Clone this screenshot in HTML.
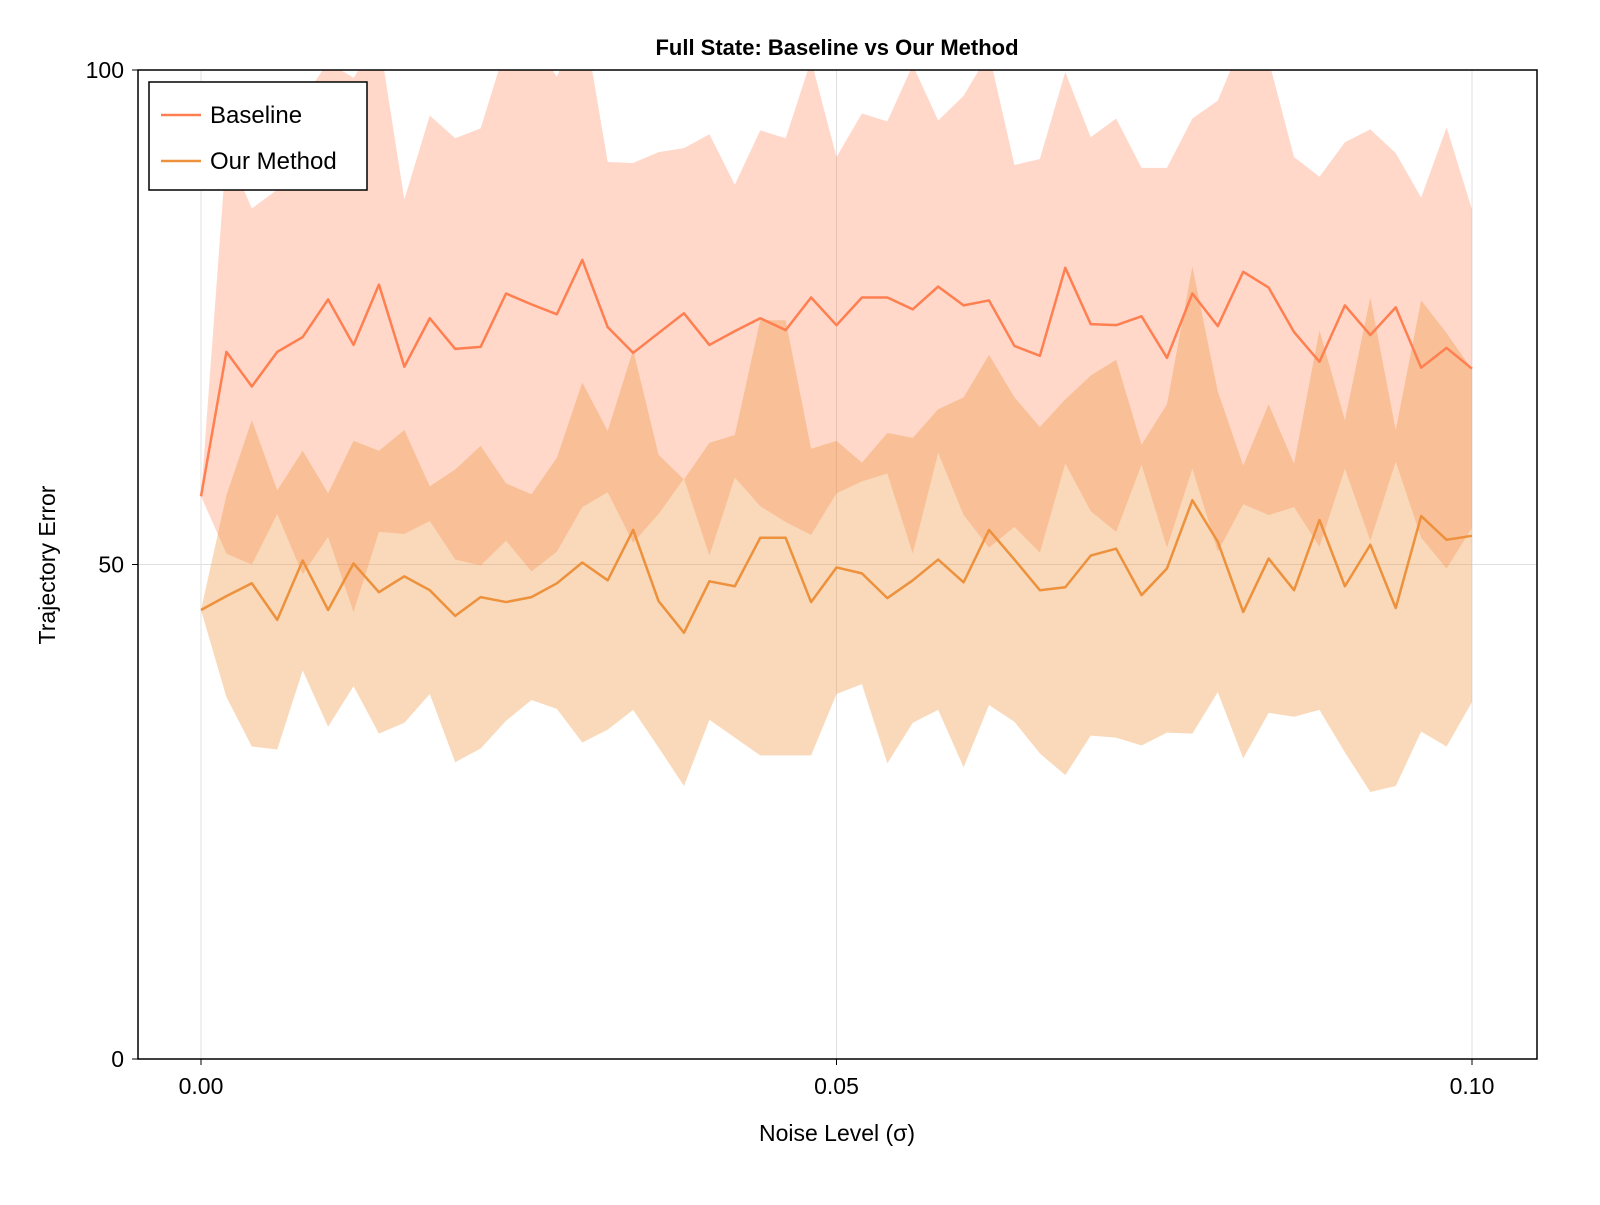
<!DOCTYPE html>
<html><head><meta charset="utf-8"><style>
body{margin:0;background:#fff;}
svg text{font-family:"Liberation Sans",sans-serif;}
</style></head><body>
<svg id="chart" width="1600" height="1200" viewBox="0 0 1600 1200" xmlns="http://www.w3.org/2000/svg">
<defs><clipPath id="clip"><rect x="138" y="70" width="1399" height="989"/></clipPath></defs>
<rect x="0" y="0" width="1600" height="1200" fill="#fff"/>
<g id="grid"></g>
<g id="bands" clip-path="url(#clip)"></g>
<g id="lines" clip-path="url(#clip)"></g>
<rect x="138" y="70" width="1399" height="989" fill="none" stroke="#000" stroke-width="1.5"/>
<g id="ticks"></g>
<text x="837" y="55" text-anchor="middle" font-size="22" font-weight="bold">Full State: Baseline vs Our Method</text>
<text x="837" y="1141" text-anchor="middle" font-size="23">Noise Level (σ)</text>
<text transform="translate(55,565) rotate(-90)" text-anchor="middle" font-size="23">Trajectory Error</text>
<g>
<rect x="149" y="82" width="218" height="108" fill="#fff" stroke="#000" stroke-width="1.5"/>
<line x1="161" y1="115" x2="201" y2="115" stroke="#ff7f50" stroke-width="2.5"/>
<text x="210" y="123" font-size="24">Baseline</text>
<line x1="161" y1="161" x2="201" y2="161" stroke="#ed913d" stroke-width="2.5"/>
<text x="210" y="169" font-size="24">Our Method</text>
</g>
</svg>
<script>
const xTicks = [0, 0.05, 0.1];
const xTickLabels = ["0.00", "0.05", "0.10"];
const yTicks = [0, 50, 100];
const yTickLabels = ["0", "50", "100"];
const baselineMean = [56.9,71.5,68.0,71.5,73.0,76.8,72.2,78.3,70.0,74.9,71.8,72.0,77.4,76.3,75.3,80.8,74.0,71.4,73.4,75.4,72.2,73.6,74.9,73.7,77.0,74.2,77.0,77.0,75.8,78.1,76.2,76.7,72.1,71.1,80.0,74.3,74.2,75.1,70.9,77.4,74.1,79.6,78.0,73.5,70.5,76.2,73.2,76.0,69.9,71.9,69.8];
const baselineStd = [0,20.4,18.0,16.4,24,24,27,25,16.9,20.5,21.3,22.1,25,27,24,25,16.7,19.2,18.3,16.7,21.3,14.8,19.0,19.4,24,17.0,18.6,17.8,24.7,16.8,21.2,25,18.3,19.9,19.8,18.9,20.9,15.0,19.2,17.7,22.8,23.5,23,17.7,18.7,16.5,20.8,15.6,17.2,22.3,16.1];
const oursMean = [45.4,46.8,48.1,44.4,50.4,45.4,50.1,47.2,48.8,47.4,44.8,46.7,46.2,46.7,48.1,50.2,48.4,53.5,46.3,43.1,48.3,47.8,52.7,52.7,46.2,49.7,49.1,46.6,48.4,50.5,48.2,53.5,50.5,47.4,47.7,50.9,51.6,46.9,49.6,56.5,52.3,45.2,50.6,47.4,54.5,47.8,52.0,45.6,54.9,52.5,52.9];
const oursStd = [0,10.2,16.5,13.1,11.1,11.8,12.4,14.3,14.8,10.5,14.8,15.3,12.0,10.4,12.7,18.2,15.1,18.2,14.8,15.5,14.0,15.3,22.0,22.0,15.5,12.8,11.2,16.7,14.4,15.2,18.7,17.7,16.4,16.5,19.0,18.2,19.1,15.2,16.6,23.6,15.2,14.8,15.6,12.8,19.2,16.8,25.0,18.0,21.8,20.9,16.8];
const xStep = 0.002;

const NS = "http://www.w3.org/2000/svg";
const sx = v => 201 + v / 0.1 * 1271;
const sy = v => 1059 - v / 100 * 989;
function mk(tag, attrs, parent){const e=document.createElementNS(NS,tag);for(const k in attrs)e.setAttribute(k,attrs[k]);parent.appendChild(e);return e;}
const grid=document.getElementById('grid'), ticks=document.getElementById('ticks');
xTicks.forEach((t,i)=>{
  const g=mk('line',{x1:sx(t),x2:sx(t),y1:70,y2:1059,stroke:'#e0e0e0','stroke-width':1},grid);
  
  
  const tk=mk('line',{x1:sx(t),x2:sx(t),y1:1059,y2:1065,stroke:'#000','stroke-width':1},ticks);
  
  
  const tx=mk('text',{x:sx(t),y:1094,'text-anchor':'middle','font-size':23},ticks);
  tx.textContent=xTickLabels[i];
  
  
});
yTicks.forEach((t,i)=>{
  const g=mk('line',{x1:138,x2:1537,y1:sy(t),y2:sy(t),stroke:'#e0e0e0','stroke-width':1},grid);
  
  
  const tk=mk('line',{x1:132,x2:138,y1:sy(t),y2:sy(t),stroke:'#000','stroke-width':1},ticks);
  
  
  const tx=mk('text',{x:124,y:sy(t)+8,'text-anchor':'end','font-size':23},ticks);
  tx.textContent=yTickLabels[i];
  
  
});
function band(mean,std,fill,name){
  let up=[],lo=[];
  mean.forEach((m,i)=>{up.push(sx(i*xStep)+','+sy(m+std[i]));lo.unshift(sx(i*xStep)+','+sy(m-std[i]));});
  const p=mk('polygon',{points:up.concat(lo).join(' '),fill:fill},document.getElementById('bands'));
  
  
}
function line(mean,color,name){
  const pts=mean.map((m,i)=>sx(i*xStep)+','+sy(m)).join(' ');
  const p=mk('polyline',{points:pts,fill:'none',stroke:color,'stroke-width':2.5,'stroke-linejoin':'round'},document.getElementById('lines'));
  
  
}
band(baselineMean,baselineStd,'rgba(255,127,80,0.3)','baseline-band');
band(oursMean,oursStd,'rgba(237,145,55,0.35)','our-method-band');
line(baselineMean,'#ff7f50','baseline-line');
line(oursMean,'#ed913d','our-method-line');
</script>
</body></html>
